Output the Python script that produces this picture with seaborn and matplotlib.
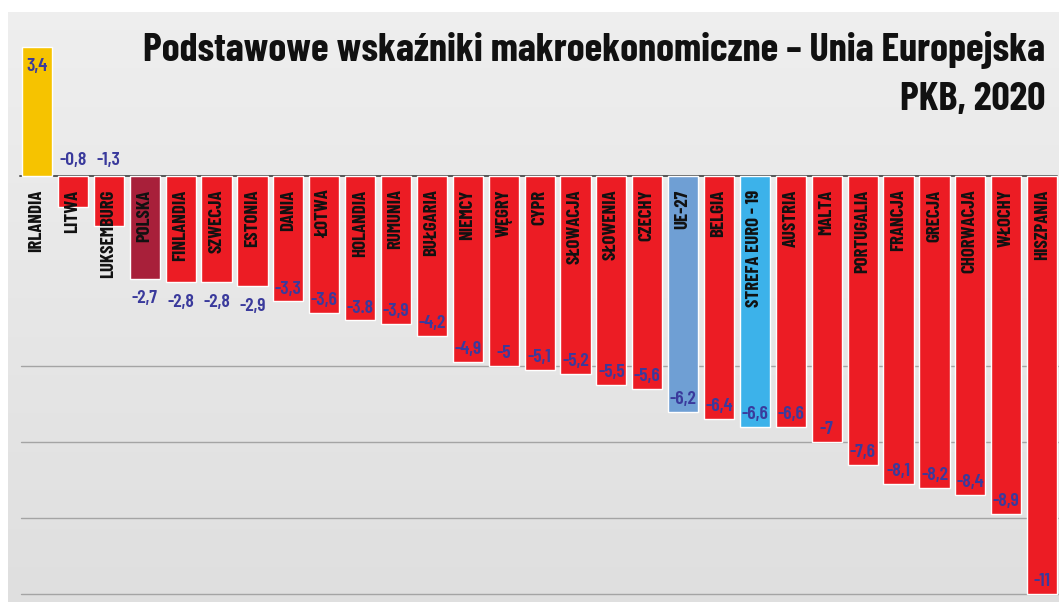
import matplotlib.pyplot as plt
import seaborn as sns
import numpy as np

sns.set_theme(style="white")
plt.rcParams['font.family'] = ['Barlow Condensed', 'Roboto Condensed', 'DejaVu Sans']

countries = ["IRLANDIA", "LITWA", "LUKSEMBURG", "POLSKA", "FINLANDIA", "SZWECJA",
             "ESTONIA", "DANIA", "ŁOTWA", "HOLANDIA", "RUMUNIA", "BUŁGARIA",
             "NIEMCY", "WĘGRY", "CYPR", "SŁOWACJA", "SŁOWENIA", "CZECHY", "UE-27",
             "BELGIA", "STREFA EURO - 19", "AUSTRIA", "MALTA", "PORTUGALIA",
             "FRANCJA", "GRECJA", "CHORWACJA", "WŁOCHY", "HISZPANIA"]
gdp = [3.4, -0.8, -1.3, -2.7, -2.8, -2.8, -2.9, -3.3, -3.6, -3.8, -3.9, -4.2,
       -4.9, -5.0, -5.1, -5.2, -5.5, -5.6, -6.2, -6.4, -6.6, -6.6, -7.0, -7.6,
       -8.1, -8.2, -8.4, -8.9, -11.0]
value_labels = ["3,4", "-0,8", "-1,3", "-2,7", "-2,8", "-2,8", "-2,9", "-3,3", "-3,6",
                "-3.8", "-3,9", "-4,2", "-4,9", "-5", "-5,1", "-5,2", "-5,5", "-5,6",
                "-6,2", "-6,4", "-6,6", "-6,6", "-7", "-7,6", "-8,1", "-8,2", "-8,4",
                "-8,9", "-11"]

red = "#ec1c24"
colors = [red] * len(countries)
colors[0] = "#f6c300"
colors[3] = "#a8203a"
colors[18] = "#6f9fd4"
colors[20] = "#3cb2ea"
value_color = "#3a3a9c"

fig = plt.figure(figsize=(10.59, 6.02), dpi=100)
fig.patch.set_facecolor("white")
ax = fig.add_axes([8 / 1059, 0, 1 - 8 / 1059, 590 / 602])

sns.barplot(x=countries, y=gdp, hue=countries, palette=colors, legend=False,
            width=0.84, saturation=1, ax=ax, zorder=3)

xmin, xmax, ymin, ymax = -0.81, 28.47, -11.21, 4.32
ax.set_xlim(xmin, xmax)
ax.set_ylim(ymin, ymax)

# soft light-gray backdrop, a bit lighter near the top
shade = np.linspace(0.935, 0.875, 200).reshape(-1, 1)
ax.imshow(np.dstack([shade] * 3), extent=[xmin, xmax, ymin, ymax], aspect="auto",
          zorder=0, interpolation="bilinear")

ax.set_xticks([])
ax.set_yticks([])
for s in ax.spines.values():
    s.set_visible(False)
ax.set_xlabel("")
ax.set_ylabel("")
for g in [-5, -7, -9, -11]:
    ax.axhline(g, xmin=0.012, xmax=1, color="#a4a4a4", linewidth=1, zorder=1)
ax.axhline(0, xmin=0.011, xmax=0.998, color="#555555", linewidth=1.4, zorder=2)

for i, (name, v, lab) in enumerate(zip(countries, gdp, value_labels)):
    ax.text(i, -0.35, name, rotation=90, ha="center", va="top", fontsize=13.5,
            fontweight="bold", color="#111111", zorder=5)
    if v > 0:
        ax.text(i, v - 0.3, lab, ha="center", va="top", fontsize=14,
                fontweight="semibold", color=value_color, zorder=5)
    elif v > -2:
        ax.text(i, 0.2, lab, ha="center", va="bottom", fontsize=14,
                fontweight="semibold", color=value_color, zorder=5)
    elif v > -3:
        ax.text(i, v - 0.3, lab, ha="center", va="top", fontsize=14,
                fontweight="semibold", color=value_color, zorder=5)
    else:
        ax.text(i, v + 0.1, lab, ha="center", va="bottom", fontsize=14,
                fontweight="semibold", color=value_color, zorder=5)

fig.text(0.987, 0.917, "Podstawowe wskaźniki makroekonomiczne – Unia Europejska",
         ha="right", va="center", fontsize=29, fontweight="bold", color="#111111")
fig.text(0.987, 0.834, "PKB, 2020", ha="right", va="center", fontsize=29,
         fontweight="bold", color="#111111")

fig.savefig("out.png", dpi=100)
